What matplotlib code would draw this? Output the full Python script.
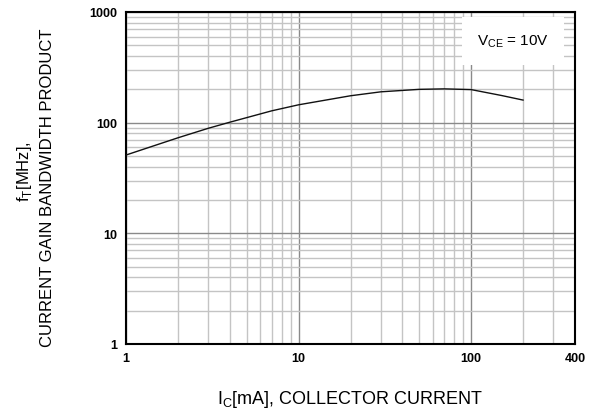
import numpy as np
import matplotlib
matplotlib.use('Agg')
import matplotlib.pyplot as plt

# collector current (mA) vs. current gain bandwidth product fT (MHz)
ic_ma = [1, 2, 3, 4, 5, 7, 10, 20, 30, 50, 70, 100, 150, 200]
ft_mhz = [51, 73, 89, 101, 111, 128, 145, 175, 190, 200, 202, 199, 176, 160]

x_ticks = [1, 10, 100, 400]
y_ticks = [1, 10, 100, 1000]

plt.rc('font', family='Liberation Sans')
fig = plt.figure(figsize=(5.9, 4.1), dpi=100)
ax = fig.add_axes([126/590, 1 - 345/410, 449/590, 332/410])

ax.set_xscale('log')
ax.set_yscale('log')
ax.set_xlim(1, 400)
ax.set_ylim(1, 1000)

# grid: decades darker, minor lines light gray
ax.grid(True, which='minor', color='#c4c4c4', linewidth=1.0)
ax.grid(True, which='major', color='#8a8a8a', linewidth=1.0)
ax.set_axisbelow(True)

ax.plot(ic_ma, ft_mhz, color='#111111', linewidth=1.0, zorder=3)

ax.set_xticks(x_ticks)
ax.set_xticklabels([str(v) for v in x_ticks], fontweight='bold', fontsize=9)
ax.set_yticks(y_ticks)
ax.set_yticklabels([str(v) for v in y_ticks], fontweight='bold', fontsize=9)
ax.tick_params(which='both', length=0, pad=6)
for s in ax.spines.values():
    s.set_linewidth(1.5)
    s.set_color('black')

# condition box
ax.text(0.862, 0.913, r'V$_{\mathregular{CE}}$ = 10V', transform=ax.transAxes,
        ha='center', va='center', fontsize=11, zorder=4,
        bbox=dict(facecolor='white', edgecolor='none', pad=11))

fig.text(350/590, 1 - 400/410, r'I$_{\mathregular{C}}$[mA], COLLECTOR CURRENT',
         ha='center', va='center', fontsize=13)
fig.text(25/590, 1 - 172/410, r'f$_{\mathregular{T}}$[MHz],', rotation=90,
         ha='center', va='center', fontsize=12)
fig.text(48/590, 1 - 188/410, 'CURRENT GAIN BANDWIDTH PRODUCT', rotation=90,
         ha='center', va='center', fontsize=12)

fig.savefig('out.png', dpi=100)
